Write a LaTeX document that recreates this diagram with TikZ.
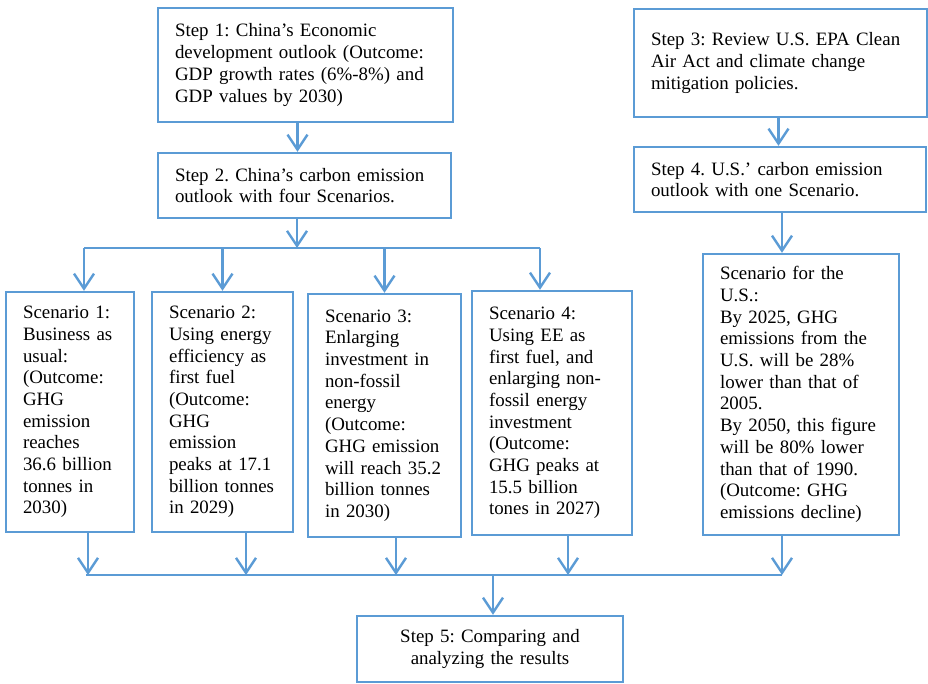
\documentclass[tikz,border=0pt]{standalone}
\usepackage{fontspec}
\setmainfont{Liberation Serif}
\usetikzlibrary{arrows.meta}
\definecolor{boxblue}{RGB}{91,155,213}
\frenchspacing

\begin{document}
\begin{tikzpicture}[x=1pt, y=-1pt]
  \tikzstyle{every node}=[rectangle, draw=boxblue, line width=2.4pt, inner xsep=17pt, align=left, text=black, font=\fontsize{18.9}{21.7}\selectfont]
  \tikzstyle{arr}=[-{Straight Barb[length=15pt, width=20pt, line width=2.4pt]}, draw=boxblue, line width=2.4pt]
  \tikzstyle{bus}=[draw=boxblue, line width=2.4pt]
  \useasboundingbox (0,0) rectangle (928,683);
    % China side
    \node[text width=261pt, minimum height=114pt] (S1) at (305.5,65) {Step 1: China’s Economic\\ development outlook (Outcome:\\ GDP growth rates (6\%-8\%) and\\ GDP values by 2030)};
    \node[text width=259pt, minimum height=65pt] (S2) at (304.5,185.5) {Step 2. China’s carbon emission\\ outlook with four Scenarios.};
    % U.S. side
    \node[text width=259pt, minimum height=108pt] (S3) at (780.5,63) {Step 3: Review U.S. EPA Clean\\ Air Act and climate change\\ mitigation policies.};
    \node[text width=258pt, minimum height=65pt] (S4) at (780,179.5) {Step 4. U.S.’ carbon emission\\ outlook with one Scenario.};
    % scenarios
    \node[text width=94pt, minimum height=240pt] (SC1) at (70,412) {Scenario 1:\\ Business as\\ usual:\\ (Outcome:\\ GHG\\ emission\\ reaches\\ 36.6 billion\\ tonnes in\\ 2030)};
    \node[text width=107pt, minimum height=240pt] (SC2) at (222.5,412) {Scenario 2:\\ Using energy\\ efficiency as\\ first fuel\\ (Outcome:\\ GHG\\ emission\\ peaks at 17.1\\ billion tonnes\\ in 2029)};
    \node[text width=119pt, minimum height=243pt] (SC3) at (384.5,415.5) {Scenario 3:\\ Enlarging\\ investment in\\ non-fossil\\ energy\\ (Outcome:\\ GHG emission\\ will reach 35.2\\ billion tonnes\\ in 2030)};
    \node[text width=126pt, minimum height=244pt] (SC4) at (552,413) {Scenario 4:\\ Using EE as\\ first fuel, and\\ enlarging non-\\ fossil energy\\ investment\\ (Outcome:\\ GHG peaks at\\ 15.5 billion\\ tones in 2027)};
    \node[text width=162pt, minimum height=281pt] (US) at (801,394.5) {Scenario for the\\ U.S.:\\ By 2025, GHG\\ emissions from the\\ U.S. will be 28\%\\ lower than that of\\ 2005.\\ By 2050, this figure\\ will be 80\% lower\\ than that of 1990.\\ (Outcome: GHG\\ emissions decline)};
    \node[text width=232pt, minimum height=66pt, align=center] (S5) at (490,649) {Step 5: Comparing and\\ analyzing the results};
    % bus points
    \coordinate (T) at (297,248);
    \coordinate (TL) at (84,248);
    \coordinate (TR) at (540,248);
    \coordinate (BL) at (86,575);
    \coordinate (BR) at (782,575);
    \coordinate (B) at (493,575);
    \draw[arr] ([xshift=-8pt]S1.south) -- ([xshift=-8pt]S1.south |- S2.north);
    \draw[arr] (S2.south -| T) -- (T);
    \draw[bus] (TL) -- (TR);
    \draw[arr] (TL) -- (TL |- SC1.north);
    \draw[arr] (SC2.north |- TL) -- (SC2.north);
    \draw[arr] (SC3.north |- TL) -- (SC3.north);
    \draw[arr] (TR) -- (TR |- SC4.north);
    \draw[arr] ([xshift=-2pt]S3.south) -- ([xshift=-2pt]S3.south |- S4.north);
    \draw[arr] ([xshift=2pt]S4.south) -- ([xshift=2pt]S4.south |- US.north);
    \draw[arr] ([xshift=18pt]SC1.south) -- ([xshift=18pt]SC1.south |- BL);
    \draw[arr] ([xshift=23.5pt]SC2.south) -- ([xshift=23.5pt]SC2.south |- BL);
    \draw[arr] ([xshift=11.5pt]SC3.south) -- ([xshift=11.5pt]SC3.south |- BL);
    \draw[arr] ([xshift=16pt]SC4.south) -- ([xshift=16pt]SC4.south |- BL);
    \draw[arr] (US.south -| BR) -- (BR);
    \draw[bus, line width=1.2pt] (BL) -- (BR);
    \draw[arr] (B) -- (B |- S5.north);
  \end{tikzpicture}
\end{document}
